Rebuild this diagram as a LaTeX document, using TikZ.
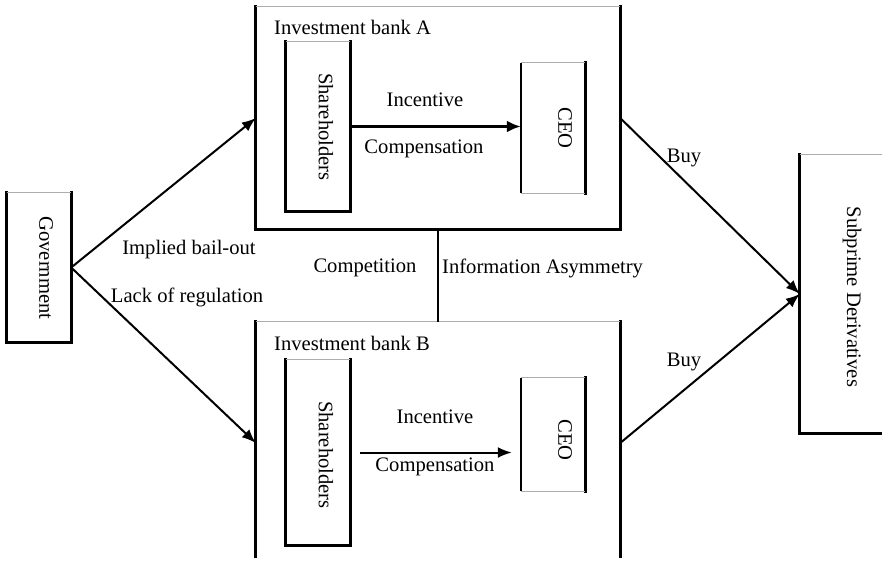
\documentclass[tikz,border=0pt]{standalone}
\usepackage{fontspec}
\setmainfont{Liberation Serif}
\usetikzlibrary{arrows.meta}
\begin{document}
\begin{tikzpicture}[x=1pt,y=-1pt,
  every node/.style={font=\fontsize{20.6}{24}\selectfont, inner sep=0pt},
  boxn/.style={draw=none, rectangle, minimum width=#1},
  thickedge/.style={line width=3pt, line cap=rect},
  topedge/.style={line width=1pt, draw=black!32},
  thinedge/.style={line width=1.6pt},
  conn/.style={line width=2pt, -{Latex[length=14pt,width=11pt]}},
  vtext/.style={rotate=-90}
]
\useasboundingbox (0,0) rectangle (882,565);
\fill[white] (0,0) rectangle (882,565);

% ---------- boxes ----------
\node[boxn=64, minimum height=149] (gov) at (39,267.5) {};
\node[boxn=364, minimum height=222] (bankA) at (438,118) {};
\node[boxn=364, minimum height=242] (bankB) at (438,443) {};
\node[boxn=64, minimum height=169] (shA) at (318,126.5) {};
\node[boxn=64, minimum height=130] (ceoA) at (553,128) {};
\node[boxn=64, minimum height=185] (shB) at (318,452.5) {};
\node[boxn=64, minimum height=113] (ceoB) at (553,434.5) {};
\node[boxn=110, minimum height=278] (sub) at (855,294) {};

% edges: thick sides, light top
\foreach \n in {gov,bankA,shA,shB,sub}{
  \draw[thickedge] (\n.north west) -- (\n.south west) -- (\n.south east) -- (\n.north east);
  \draw[topedge] (\n.north west) -- (\n.north east);
}
% bank B continues below the picture's edge
\draw[thickedge] (bankB.north west) -- ([yshift=8pt]bankB.south west);
\draw[thickedge] (bankB.north east) -- ([yshift=8pt]bankB.south east);
\draw[topedge] (bankB.north west) -- (bankB.north east);
\foreach \n in {ceoA,ceoB}{
  \draw[thinedge] (\n.north west) -- (\n.south west);
  \draw[thickedge] (\n.north east) -- (\n.south east);
  \draw[topedge] (\n.north west) -- (\n.north east);
  \draw[topedge] (\n.south west) -- (\n.south east);
}

% ---------- box texts ----------
\node[vtext] (govt) at (46,268) {Government};
\node[vtext] (shAt) at (326,127) {Shareholders};
\node[vtext] (ceoAt) at (565,128) {CEO};
\node[vtext] (shBt) at (326,455) {Shareholders};
\node[vtext] (ceoBt) at (565,440) {CEO};
\node[vtext] (subt) at (852,297) {Subprime Derivatives};
\node[anchor=west] (bAt) at (274,27) {Investment bank A};
\node[anchor=west] (bBt) at (274,343) {Investment bank B};

% ---------- connectors ----------
\draw[conn] (gov.east) -- (bankA.west);
\draw[conn] (gov.east) -- (bankB.west);
\draw[conn] (bankA.east) -- (sub.west);
\draw[conn] (bankB.east) -- (sub.west);
\draw[line width=3.5pt, -{Latex[length=14pt,width=12pt]}] (shA.east) -- (ceoA.west |- shA.east);
\draw[conn, shorten <=10pt, shorten >=9pt] (shB.east) -- (ceoB.west |- shB.east);
\draw[line width=2pt] (bankA.south) -- (bankB.north);

% ---------- labels ----------
\node (incA) at (425,100) {Incentive};
\node (compA) at (424,149) {Compensation};
\node (incB) at (435,417) {Incentive};
\node (compB) at (435,467) {Compensation};
\node (bail) at (189,250) {Implied bail-out};
\node (lack) at (187,297) {Lack of regulation};
\node (compet) at (365,268) {Competition};
\node[anchor=west] (info) at (442,268) {Information Asymmetry};
\node (buyA) at (684,158) {Buy};
\node (buyB) at (684,362) {Buy};
\end{tikzpicture}
\end{document}
